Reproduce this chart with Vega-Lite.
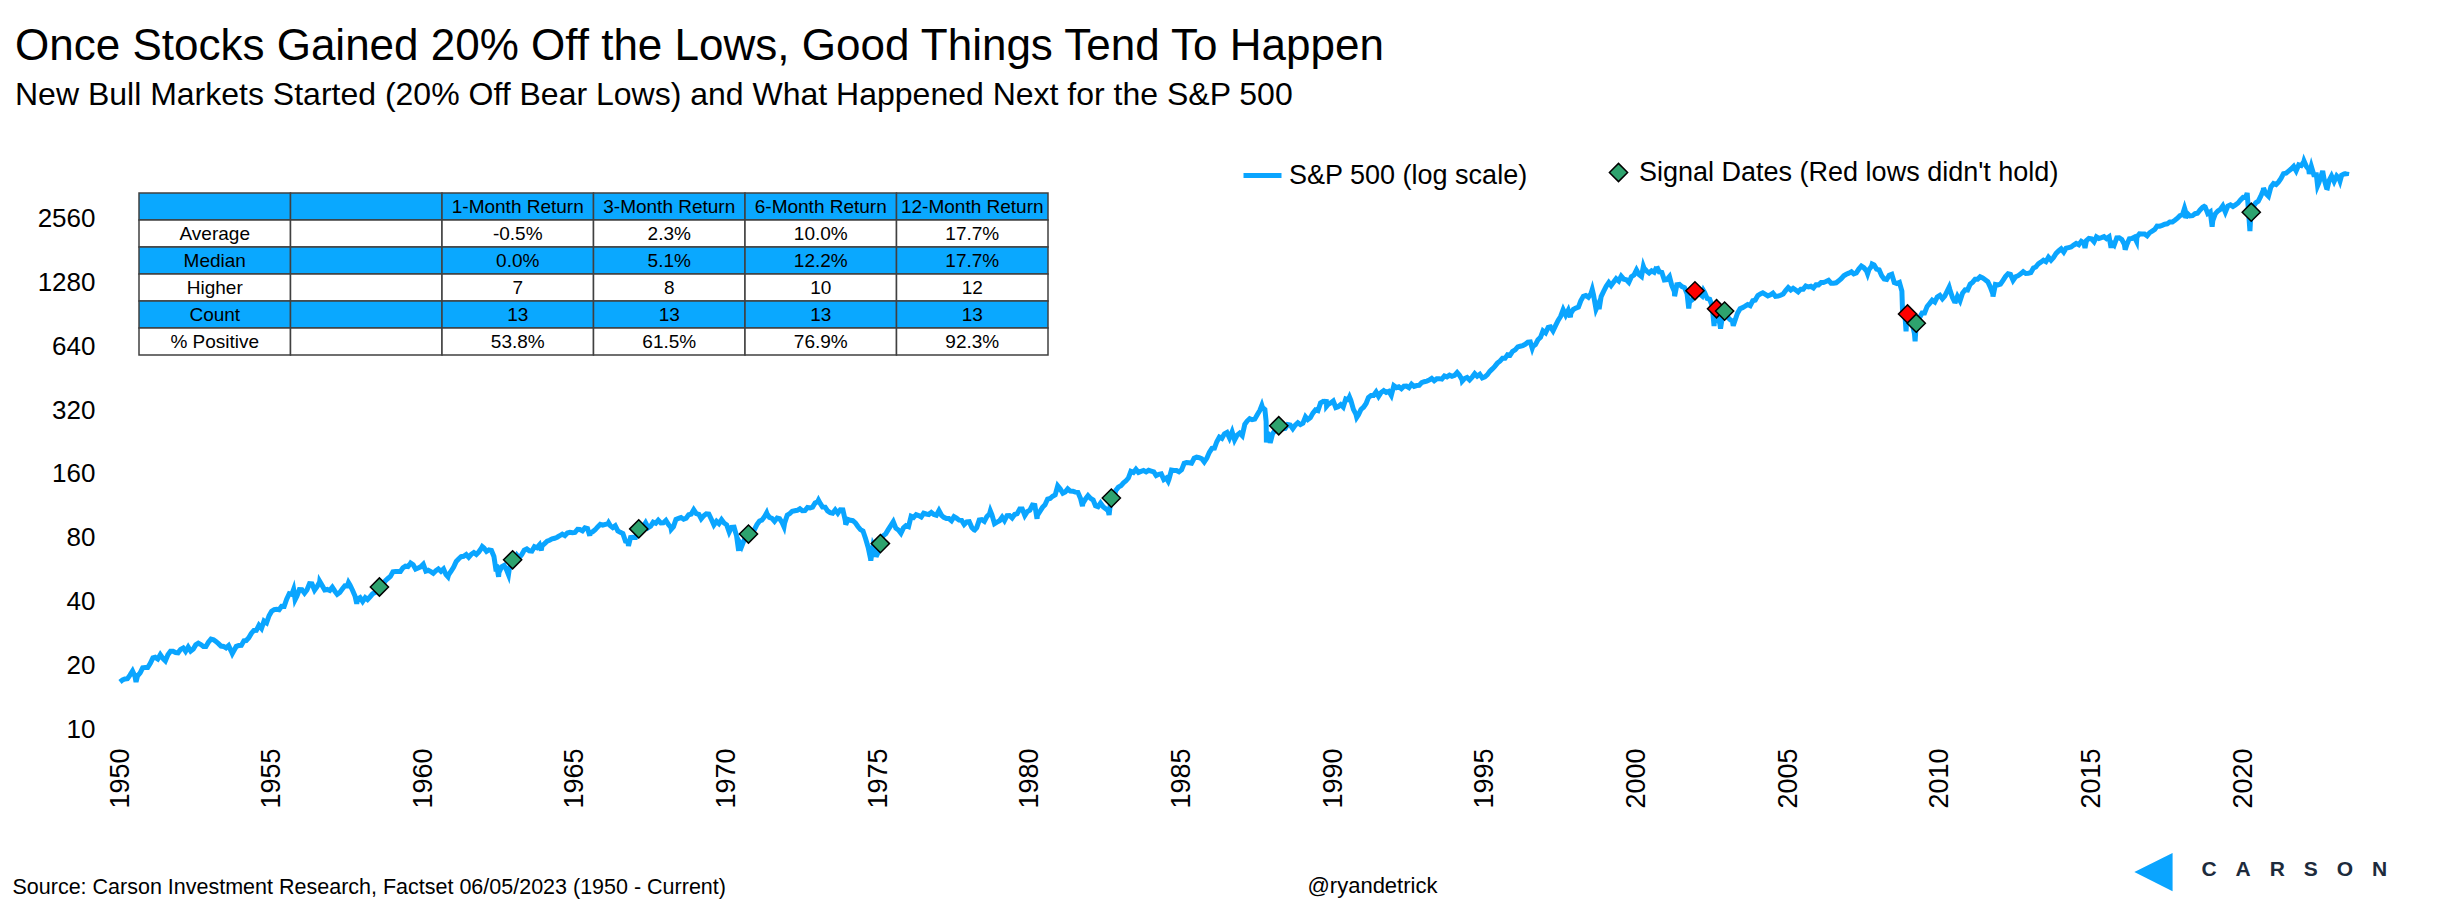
{
  "$schema": "https://vega.github.io/schema/vega-lite/v6.json",
  "width": 2227,
  "height": 574,
  "autosize": {"type": "none"},
  "padding": {"left": 120, "top": 155, "right": 92, "bottom": 180},
  "background": "white",
  "title": {
    "text": "Once Stocks Gained 20% Off the Lows, Good Things Tend To Happen",
    "subtitle": "New Bull Markets Started (20% Off Bear Lows) and What Happened Next for the S&P 500",
    "anchor": "start",
    "frame": "group",
    "dx": -105,
    "offset": 40,
    "font": "Liberation Sans",
    "fontSize": 44,
    "fontWeight": "normal",
    "color": "black",
    "subtitleFont": "Liberation Sans",
    "subtitleFontSize": 32,
    "subtitleColor": "black",
    "subtitlePadding": 11
  },
  "datasets": {
    "spx": [
      {"d":"1950-01","v":16.66},{"d":"1950-02","v":17.05},{"d":"1950-03","v":17.22},{"d":"1950-04","v":17.29},{"d":"1950-05","v":17.96},{"d":"1950-06","v":18.78},{"d":"1950-07","v":17.69},{"d":"1950-07-13","v":16.68},{"d":"1950-08","v":17.84},{"d":"1950-09","v":18.42},{"d":"1950-10","v":19.45},{"d":"1950-11","v":19.53},{"d":"1950-12","v":19.51},
      {"d":"1951-01","v":20.41},{"d":"1951-02","v":21.66},{"d":"1951-03","v":21.80},{"d":"1951-04","v":21.40},{"d":"1951-05","v":22.43},{"d":"1951-06","v":21.52},{"d":"1951-07","v":20.96},{"d":"1951-08","v":22.40},{"d":"1951-09","v":23.28},{"d":"1951-10","v":23.26},{"d":"1951-11","v":22.94},{"d":"1951-12","v":22.88},
      {"d":"1952-01","v":23.77},{"d":"1952-02","v":24.14},{"d":"1952-03","v":23.26},{"d":"1952-04","v":24.37},{"d":"1952-05","v":23.32},{"d":"1952-06","v":23.86},{"d":"1952-07","v":24.96},{"d":"1952-08","v":25.40},{"d":"1952-09","v":25.03},{"d":"1952-10","v":24.54},{"d":"1952-11","v":24.52},{"d":"1952-12","v":25.66},
      {"d":"1953-01","v":26.57},{"d":"1953-02","v":26.38},{"d":"1953-03","v":25.90},{"d":"1953-04","v":25.29},{"d":"1953-05","v":24.62},{"d":"1953-06","v":24.54},{"d":"1953-07","v":24.14},{"d":"1953-08","v":24.75},{"d":"1953-09","v":23.32},{"d":"1953-09-14","v":22.71},{"d":"1953-10","v":23.35},{"d":"1953-11","v":24.54},{"d":"1953-12","v":24.76},
      {"d":"1954-01","v":24.81},{"d":"1954-02","v":26.08},{"d":"1954-03","v":26.15},{"d":"1954-04","v":26.94},{"d":"1954-05","v":28.26},{"d":"1954-06","v":29.19},{"d":"1954-07","v":29.21},{"d":"1954-08","v":30.88},{"d":"1954-09","v":29.83},{"d":"1954-10","v":32.31},{"d":"1954-11","v":31.68},{"d":"1954-12","v":34.24},
      {"d":"1955-01","v":35.98},{"d":"1955-02","v":36.63},{"d":"1955-03","v":36.76},{"d":"1955-04","v":36.58},{"d":"1955-05","v":37.96},{"d":"1955-06","v":37.91},{"d":"1955-07","v":41.03},{"d":"1955-08","v":43.52},{"d":"1955-09","v":43.18},{"d":"1955-09-23","v":45.63},{"d":"1955-10","v":43.67},{"d":"1955-10-11","v":40.80},{"d":"1955-11","v":42.34},{"d":"1955-12","v":45.51},
      {"d":"1956-01","v":45.48},{"d":"1956-02","v":43.82},{"d":"1956-03","v":45.34},{"d":"1956-04","v":48.48},{"d":"1956-05","v":48.38},{"d":"1956-06","v":45.20},{"d":"1956-07","v":46.97},{"d":"1956-08","v":49.39},{"d":"1956-08-02","v":49.74},{"d":"1956-09","v":47.51},{"d":"1956-10","v":45.35},{"d":"1956-11","v":45.58},{"d":"1956-12","v":45.08},
      {"d":"1957-01","v":46.67},{"d":"1957-02","v":44.72},{"d":"1957-03","v":43.26},{"d":"1957-04","v":44.11},{"d":"1957-05","v":45.74},{"d":"1957-06","v":47.43},{"d":"1957-07","v":47.37},{"d":"1957-07-15","v":49.13},{"d":"1957-08","v":47.91},{"d":"1957-09","v":45.22},{"d":"1957-10","v":42.42},{"d":"1957-10-22","v":38.98},{"d":"1957-11","v":41.06},{"d":"1957-12","v":41.72},
      {"d":"1958-01","v":39.99},{"d":"1958-02","v":41.70},{"d":"1958-03","v":40.84},{"d":"1958-04","v":42.10},{"d":"1958-05","v":43.44},{"d":"1958-06","v":44.09},{"d":"1958-07","v":45.24},{"d":"1958-07-22","v":46.80},{"d":"1958-08","v":47.19},{"d":"1958-09","v":47.75},{"d":"1958-10","v":50.06},{"d":"1958-11","v":51.33},{"d":"1958-12","v":52.48},
      {"d":"1959-01","v":55.21},{"d":"1959-02","v":55.42},{"d":"1959-03","v":55.41},{"d":"1959-04","v":55.44},{"d":"1959-05","v":57.59},{"d":"1959-06","v":58.68},{"d":"1959-07","v":58.47},{"d":"1959-08","v":60.51},{"d":"1959-08-03","v":60.71},{"d":"1959-09","v":59.60},{"d":"1959-10","v":56.88},{"d":"1959-11","v":57.52},{"d":"1959-12","v":58.28},
      {"d":"1960-01","v":59.89},{"d":"1960-02","v":55.61},{"d":"1960-03","v":56.12},{"d":"1960-04","v":55.34},{"d":"1960-05","v":54.37},{"d":"1960-06","v":55.83},{"d":"1960-07","v":56.92},{"d":"1960-08","v":55.51},{"d":"1960-09","v":56.96},{"d":"1960-10","v":53.52},{"d":"1960-10-25","v":52.30},{"d":"1960-11","v":53.39},{"d":"1960-12","v":55.54},
      {"d":"1961-01","v":58.11},{"d":"1961-02","v":61.78},{"d":"1961-03","v":63.44},{"d":"1961-04","v":65.06},{"d":"1961-05","v":65.31},{"d":"1961-06","v":66.56},{"d":"1961-07","v":64.64},{"d":"1961-08","v":66.76},{"d":"1961-09","v":68.07},{"d":"1961-10","v":66.73},{"d":"1961-11","v":68.62},{"d":"1961-12","v":71.32},{"d":"1961-12-12","v":72.64},
      {"d":"1962-01","v":71.55},{"d":"1962-02","v":68.84},{"d":"1962-03","v":69.96},{"d":"1962-04","v":69.55},{"d":"1962-05","v":65.24},{"d":"1962-05-28","v":55.50},{"d":"1962-06","v":59.63},{"d":"1962-06-26","v":52.32},{"d":"1962-07","v":54.75},{"d":"1962-08","v":58.23},{"d":"1962-09","v":59.12},{"d":"1962-10","v":56.27},{"d":"1962-10-23","v":53.49},{"d":"1962-11","v":56.52},{"d":"1962-12","v":62.26},{"d":"1962-12-12","v":62.90},
      {"d":"1963-01","v":63.10},{"d":"1963-02","v":66.20},{"d":"1963-03","v":64.29},{"d":"1963-04","v":66.57},{"d":"1963-05","v":69.80},{"d":"1963-06","v":70.80},{"d":"1963-07","v":69.37},{"d":"1963-08","v":69.13},{"d":"1963-09","v":72.50},{"d":"1963-10","v":71.70},{"d":"1963-11","v":74.01},{"d":"1963-11-22","v":69.61},{"d":"1963-12","v":73.23},
      {"d":"1964-01","v":75.02},{"d":"1964-02","v":77.04},{"d":"1964-03","v":77.80},{"d":"1964-04","v":78.98},{"d":"1964-05","v":79.46},{"d":"1964-06","v":80.37},{"d":"1964-07","v":81.69},{"d":"1964-08","v":83.18},{"d":"1964-09","v":81.83},{"d":"1964-10","v":84.18},{"d":"1964-11","v":84.86},{"d":"1964-12","v":84.42},
      {"d":"1965-01","v":84.75},{"d":"1965-02","v":87.56},{"d":"1965-03","v":87.43},{"d":"1965-04","v":86.16},{"d":"1965-05","v":89.11},{"d":"1965-06","v":88.42},{"d":"1965-06-28","v":81.60},{"d":"1965-07","v":84.12},{"d":"1965-08","v":85.25},{"d":"1965-09","v":87.17},{"d":"1965-10","v":89.96},{"d":"1965-11","v":92.42},{"d":"1965-12","v":91.61},
      {"d":"1966-01","v":92.43},{"d":"1966-02","v":92.88},{"d":"1966-02-09","v":94.06},{"d":"1966-03","v":91.22},{"d":"1966-04","v":89.23},{"d":"1966-05","v":91.06},{"d":"1966-06","v":86.13},{"d":"1966-07","v":84.74},{"d":"1966-08","v":83.60},{"d":"1966-09","v":77.10},{"d":"1966-10","v":76.56},{"d":"1966-10-07","v":73.20},{"d":"1966-11","v":80.20},{"d":"1966-12","v":80.45},
      {"d":"1967-01","v":80.33},{"d":"1967-02","v":86.61},{"d":"1967-02-08","v":88.00},{"d":"1967-03","v":86.78},{"d":"1967-04","v":90.20},{"d":"1967-05","v":94.01},{"d":"1967-06","v":89.08},{"d":"1967-07","v":90.64},{"d":"1967-08","v":94.75},{"d":"1967-09","v":93.64},{"d":"1967-10","v":96.71},{"d":"1967-11","v":93.90},{"d":"1967-12","v":94.00},
      {"d":"1968-01","v":96.47},{"d":"1968-02","v":92.24},{"d":"1968-03","v":89.36},{"d":"1968-03-05","v":87.72},{"d":"1968-04","v":90.20},{"d":"1968-05","v":97.59},{"d":"1968-06","v":98.68},{"d":"1968-07","v":99.58},{"d":"1968-08","v":97.74},{"d":"1968-09","v":98.86},{"d":"1968-10","v":102.67},{"d":"1968-11","v":103.41},{"d":"1968-12","v":108.37},
      {"d":"1969-01","v":103.86},{"d":"1969-02","v":103.01},{"d":"1969-03","v":98.13},{"d":"1969-04","v":101.51},{"d":"1969-05","v":103.69},{"d":"1969-06","v":103.46},{"d":"1969-07","v":97.71},{"d":"1969-08","v":91.83},{"d":"1969-09","v":95.51},{"d":"1969-10","v":93.12},{"d":"1969-11","v":97.24},{"d":"1969-12","v":93.81},
      {"d":"1970-01","v":92.06},{"d":"1970-02","v":85.02},{"d":"1970-03","v":89.50},{"d":"1970-04","v":89.63},{"d":"1970-05","v":81.52},{"d":"1970-05-26","v":69.29},{"d":"1970-06","v":76.55},{"d":"1970-07","v":72.72},{"d":"1970-08","v":78.05},{"d":"1970-09","v":81.52},{"d":"1970-09-21","v":83.20},{"d":"1970-10","v":84.21},{"d":"1970-11","v":83.25},{"d":"1970-12","v":87.20},
      {"d":"1971-01","v":92.15},{"d":"1971-02","v":95.88},{"d":"1971-03","v":96.75},{"d":"1971-04","v":100.31},{"d":"1971-04-28","v":104.77},{"d":"1971-05","v":103.95},{"d":"1971-06","v":99.63},{"d":"1971-07","v":98.70},{"d":"1971-08","v":95.58},{"d":"1971-09","v":99.03},{"d":"1971-10","v":98.34},{"d":"1971-11","v":94.23},{"d":"1971-11-23","v":90.16},{"d":"1971-12","v":93.99},
      {"d":"1972-01","v":102.09},{"d":"1972-02","v":103.94},{"d":"1972-03","v":106.57},{"d":"1972-04","v":107.20},{"d":"1972-05","v":107.67},{"d":"1972-06","v":109.53},{"d":"1972-07","v":107.14},{"d":"1972-08","v":107.39},{"d":"1972-09","v":111.09},{"d":"1972-10","v":110.55},{"d":"1972-11","v":111.58},{"d":"1972-12","v":116.67},
      {"d":"1973-01","v":118.05},{"d":"1973-01-11","v":120.24},{"d":"1973-02","v":116.03},{"d":"1973-03","v":111.68},{"d":"1973-04","v":111.52},{"d":"1973-05","v":106.97},{"d":"1973-06","v":104.95},{"d":"1973-07","v":104.26},{"d":"1973-08","v":108.22},{"d":"1973-09","v":104.25},{"d":"1973-10","v":108.43},{"d":"1973-11","v":108.29},{"d":"1973-12","v":95.96},{"d":"1973-12-05","v":92.16},
      {"d":"1974-01","v":97.55},{"d":"1974-02","v":96.57},{"d":"1974-03","v":96.22},{"d":"1974-04","v":93.98},{"d":"1974-05","v":90.31},{"d":"1974-06","v":87.28},{"d":"1974-07","v":86.00},{"d":"1974-08","v":79.31},{"d":"1974-09","v":72.15},{"d":"1974-10","v":63.54},{"d":"1974-10-03","v":62.28},{"d":"1974-11","v":73.90},{"d":"1974-12","v":69.97},{"d":"1974-12-06","v":65.01},
      {"d":"1975-01","v":68.56},{"d":"1975-01-27","v":75.00},{"d":"1975-02","v":76.98},{"d":"1975-03","v":81.59},{"d":"1975-04","v":83.36},{"d":"1975-05","v":87.30},{"d":"1975-06","v":91.15},{"d":"1975-07","v":95.19},{"d":"1975-08","v":88.75},{"d":"1975-09","v":86.88},{"d":"1975-10","v":83.87},{"d":"1975-11","v":89.04},{"d":"1975-12","v":91.24},
      {"d":"1976-01","v":90.19},{"d":"1976-02","v":100.86},{"d":"1976-03","v":99.71},{"d":"1976-04","v":102.77},{"d":"1976-05","v":101.64},{"d":"1976-06","v":100.18},{"d":"1976-07","v":104.28},{"d":"1976-08","v":103.44},{"d":"1976-09","v":102.91},{"d":"1976-10","v":105.24},{"d":"1976-11","v":102.90},{"d":"1976-12","v":102.10},
      {"d":"1977-01","v":107.46},{"d":"1977-02","v":102.03},{"d":"1977-03","v":99.82},{"d":"1977-04","v":98.42},{"d":"1977-05","v":98.44},{"d":"1977-06","v":96.12},{"d":"1977-07","v":100.48},{"d":"1977-08","v":98.85},{"d":"1977-09","v":96.77},{"d":"1977-10","v":96.53},{"d":"1977-11","v":92.34},{"d":"1977-12","v":94.83},
      {"d":"1978-01","v":95.10},{"d":"1978-02","v":89.25},{"d":"1978-03","v":87.04},{"d":"1978-03-06","v":86.90},{"d":"1978-04","v":89.21},{"d":"1978-05","v":96.83},{"d":"1978-06","v":97.24},{"d":"1978-07","v":95.53},{"d":"1978-08","v":100.68},{"d":"1978-09","v":103.29},{"d":"1978-09-12","v":106.99},{"d":"1978-10","v":102.54},{"d":"1978-11","v":93.15},{"d":"1978-12","v":94.70},
      {"d":"1979-01","v":96.11},{"d":"1979-02","v":99.93},{"d":"1979-03","v":96.28},{"d":"1979-04","v":101.59},{"d":"1979-05","v":101.76},{"d":"1979-06","v":99.08},{"d":"1979-07","v":102.91},{"d":"1979-08","v":103.81},{"d":"1979-09","v":109.32},{"d":"1979-10","v":109.32},{"d":"1979-11","v":101.82},{"d":"1979-12","v":106.16},
      {"d":"1980-01","v":107.94},{"d":"1980-02","v":114.16},{"d":"1980-03","v":113.66},{"d":"1980-03-27","v":98.22},{"d":"1980-04","v":102.09},{"d":"1980-05","v":106.29},{"d":"1980-06","v":111.24},{"d":"1980-07","v":114.24},{"d":"1980-08","v":121.67},{"d":"1980-09","v":122.38},{"d":"1980-10","v":125.46},{"d":"1980-11","v":127.47},{"d":"1980-12","v":140.52},
      {"d":"1981-01","v":135.76},{"d":"1981-02","v":129.55},{"d":"1981-03","v":131.27},{"d":"1981-04","v":136.00},{"d":"1981-05","v":132.81},{"d":"1981-06","v":132.59},{"d":"1981-07","v":131.21},{"d":"1981-08","v":130.92},{"d":"1981-09","v":122.79},{"d":"1981-09-25","v":112.77},{"d":"1981-10","v":116.18},{"d":"1981-11","v":121.89},{"d":"1981-12","v":126.35},
      {"d":"1982-01","v":122.55},{"d":"1982-02","v":120.40},{"d":"1982-03","v":113.11},{"d":"1982-04","v":111.96},{"d":"1982-05","v":116.44},{"d":"1982-06","v":111.88},{"d":"1982-07","v":109.61},{"d":"1982-08","v":107.09},{"d":"1982-08-12","v":102.42},{"d":"1982-09","v":119.51},{"d":"1982-09-08","v":123.00},{"d":"1982-10","v":120.42},{"d":"1982-11","v":133.71},{"d":"1982-12","v":138.54},
      {"d":"1983-01","v":140.64},{"d":"1983-02","v":145.30},{"d":"1983-03","v":148.06},{"d":"1983-04","v":152.96},{"d":"1983-05","v":164.42},{"d":"1983-06","v":162.39},{"d":"1983-07","v":168.11},{"d":"1983-08","v":162.56},{"d":"1983-09","v":164.40},{"d":"1983-10","v":166.07},{"d":"1983-11","v":163.55},{"d":"1983-12","v":166.40},
      {"d":"1984-01","v":164.93},{"d":"1984-02","v":163.41},{"d":"1984-03","v":157.06},{"d":"1984-04","v":159.18},{"d":"1984-05","v":160.05},{"d":"1984-06","v":150.55},{"d":"1984-07","v":153.18},{"d":"1984-07-24","v":147.82},{"d":"1984-08","v":150.66},{"d":"1984-09","v":166.68},{"d":"1984-10","v":166.10},{"d":"1984-11","v":166.09},{"d":"1984-12","v":163.58},
      {"d":"1985-01","v":167.24},{"d":"1985-02","v":179.63},{"d":"1985-03","v":181.18},{"d":"1985-04","v":180.66},{"d":"1985-05","v":179.83},{"d":"1985-06","v":189.55},{"d":"1985-07","v":191.85},{"d":"1985-08","v":190.92},{"d":"1985-09","v":188.63},{"d":"1985-10","v":182.08},{"d":"1985-11","v":189.82},{"d":"1985-12","v":202.17},
      {"d":"1986-01","v":211.28},{"d":"1986-02","v":211.78},{"d":"1986-03","v":226.92},{"d":"1986-04","v":238.90},{"d":"1986-05","v":235.52},{"d":"1986-06","v":247.35},{"d":"1986-07","v":250.84},{"d":"1986-08","v":236.12},{"d":"1986-09","v":252.93},{"d":"1986-10","v":231.32},{"d":"1986-11","v":243.98},{"d":"1986-12","v":249.22},
      {"d":"1987-01","v":242.17},{"d":"1987-02","v":274.08},{"d":"1987-03","v":284.20},{"d":"1987-04","v":291.70},{"d":"1987-05","v":288.36},{"d":"1987-06","v":290.10},{"d":"1987-07","v":304.00},{"d":"1987-08","v":318.66},{"d":"1987-08-25","v":336.77},{"d":"1987-09","v":329.80},{"d":"1987-10","v":321.83},{"d":"1987-10-16","v":282.70},{"d":"1987-10-19","v":224.84},{"d":"1987-11","v":251.79},{"d":"1987-12","v":230.30},{"d":"1987-12-04","v":223.92},
      {"d":"1988-01","v":247.08},{"d":"1988-02","v":257.07},{"d":"1988-03","v":267.82},{"d":"1988-03-16","v":270.00},{"d":"1988-04","v":258.89},{"d":"1988-05","v":261.33},{"d":"1988-06","v":262.16},{"d":"1988-07","v":273.50},{"d":"1988-08","v":272.02},{"d":"1988-09","v":261.52},{"d":"1988-10","v":271.91},{"d":"1988-11","v":278.97},{"d":"1988-12","v":273.70},
      {"d":"1989-01","v":277.72},{"d":"1989-02","v":297.47},{"d":"1989-03","v":288.86},{"d":"1989-04","v":294.87},{"d":"1989-05","v":309.64},{"d":"1989-06","v":320.52},{"d":"1989-07","v":317.98},{"d":"1989-08","v":346.08},{"d":"1989-09","v":351.45},{"d":"1989-10","v":349.15},{"d":"1989-10-09","v":359.80},{"d":"1989-10-13","v":333.65},{"d":"1989-11","v":340.36},{"d":"1989-12","v":345.99},
      {"d":"1990-01","v":353.40},{"d":"1990-02","v":329.08},{"d":"1990-03","v":331.89},{"d":"1990-04","v":339.94},{"d":"1990-05","v":330.80},{"d":"1990-06","v":361.23},{"d":"1990-07","v":358.02},{"d":"1990-07-16","v":368.95},{"d":"1990-08","v":356.15},{"d":"1990-09","v":322.56},{"d":"1990-10","v":306.05},{"d":"1990-10-11","v":295.46},{"d":"1990-11","v":304.00},{"d":"1990-12","v":322.22},
      {"d":"1991-01","v":330.22},{"d":"1991-02","v":343.93},{"d":"1991-03","v":367.07},{"d":"1991-04","v":375.22},{"d":"1991-05","v":375.34},{"d":"1991-06","v":389.83},{"d":"1991-07","v":371.16},{"d":"1991-08","v":387.81},{"d":"1991-09","v":395.43},{"d":"1991-10","v":387.86},{"d":"1991-11","v":392.45},{"d":"1991-12","v":375.22},
      {"d":"1992-01","v":417.09},{"d":"1992-02","v":408.79},{"d":"1992-03","v":412.70},{"d":"1992-04","v":403.69},{"d":"1992-05","v":414.95},{"d":"1992-06","v":415.35},{"d":"1992-07","v":408.14},{"d":"1992-08","v":424.21},{"d":"1992-09","v":414.03},{"d":"1992-10","v":417.80},{"d":"1992-11","v":418.68},{"d":"1992-12","v":431.35},
      {"d":"1993-01","v":435.71},{"d":"1993-02","v":438.78},{"d":"1993-03","v":443.38},{"d":"1993-04","v":451.67},{"d":"1993-05","v":440.19},{"d":"1993-06","v":450.19},{"d":"1993-07","v":450.53},{"d":"1993-08","v":448.13},{"d":"1993-09","v":463.56},{"d":"1993-10","v":458.93},{"d":"1993-11","v":467.83},{"d":"1993-12","v":461.79},
      {"d":"1994-01","v":466.45},{"d":"1994-02","v":481.61},{"d":"1994-03","v":467.14},{"d":"1994-04","v":445.77},{"d":"1994-04-04","v":438.92},{"d":"1994-05","v":450.91},{"d":"1994-06","v":456.50},{"d":"1994-07","v":444.27},{"d":"1994-08","v":458.26},{"d":"1994-09","v":475.49},{"d":"1994-10","v":462.69},{"d":"1994-11","v":472.35},{"d":"1994-12","v":453.69},
      {"d":"1995-01","v":459.27},{"d":"1995-02","v":470.42},{"d":"1995-03","v":487.39},{"d":"1995-04","v":500.71},{"d":"1995-05","v":514.71},{"d":"1995-06","v":533.40},{"d":"1995-07","v":544.75},{"d":"1995-08","v":562.06},{"d":"1995-09","v":561.88},{"d":"1995-10","v":584.41},{"d":"1995-11","v":581.50},{"d":"1995-12","v":605.37},
      {"d":"1996-01","v":615.93},{"d":"1996-02","v":636.02},{"d":"1996-03","v":640.43},{"d":"1996-04","v":645.50},{"d":"1996-05","v":654.17},{"d":"1996-06","v":669.12},{"d":"1996-07","v":670.63},{"d":"1996-07-24","v":626.65},{"d":"1996-08","v":639.95},{"d":"1996-09","v":651.99},{"d":"1996-10","v":687.31},{"d":"1996-11","v":705.27},{"d":"1996-12","v":757.02},
      {"d":"1997-01","v":740.74},{"d":"1997-02","v":786.16},{"d":"1997-03","v":790.82},{"d":"1997-04","v":757.12},{"d":"1997-05","v":801.34},{"d":"1997-06","v":848.28},{"d":"1997-07","v":885.14},{"d":"1997-08","v":954.29},{"d":"1997-09","v":899.47},{"d":"1997-10","v":947.28},{"d":"1997-10-27","v":876.99},{"d":"1997-11","v":914.62},{"d":"1997-12","v":955.40},
      {"d":"1998-01","v":970.43},{"d":"1998-02","v":980.28},{"d":"1998-03","v":1049.34},{"d":"1998-04","v":1101.75},{"d":"1998-05","v":1111.75},{"d":"1998-06","v":1090.82},{"d":"1998-07","v":1133.84},{"d":"1998-07-17","v":1186.75},{"d":"1998-08","v":1120.67},{"d":"1998-09","v":957.28},{"d":"1998-10","v":1017.01},{"d":"1998-10-08","v":959.44},{"d":"1998-11","v":1098.67},{"d":"1998-12","v":1163.63},
      {"d":"1999-01","v":1229.23},{"d":"1999-02","v":1279.64},{"d":"1999-03","v":1238.33},{"d":"1999-04","v":1286.37},{"d":"1999-05","v":1335.18},{"d":"1999-06","v":1301.84},{"d":"1999-07","v":1372.71},{"d":"1999-08","v":1328.72},{"d":"1999-09","v":1320.41},{"d":"1999-10","v":1282.71},{"d":"1999-11","v":1362.93},{"d":"1999-12","v":1388.91},
      {"d":"2000-01","v":1469.25},{"d":"2000-02","v":1394.46},{"d":"2000-03","v":1366.42},{"d":"2000-03-24","v":1527.46},{"d":"2000-04","v":1498.58},{"d":"2000-05","v":1452.43},{"d":"2000-06","v":1420.60},{"d":"2000-07","v":1454.60},{"d":"2000-08","v":1430.83},{"d":"2000-09","v":1517.68},{"d":"2000-09-01","v":1520.77},{"d":"2000-10","v":1436.51},{"d":"2000-11","v":1429.40},{"d":"2000-12","v":1314.95},
      {"d":"2001-01","v":1320.28},{"d":"2001-02","v":1366.01},{"d":"2001-03","v":1239.94},{"d":"2001-04","v":1160.33},{"d":"2001-04-04","v":1103.25},{"d":"2001-05","v":1249.46},{"d":"2001-06","v":1255.82},{"d":"2001-07","v":1224.42},{"d":"2001-08","v":1211.23},{"d":"2001-09","v":1133.58},{"d":"2001-09-21","v":965.80},{"d":"2001-10","v":1040.94},{"d":"2001-11","v":1059.78},{"d":"2001-12","v":1139.45},{"d":"2001-12-05","v":1170.35},
      {"d":"2002-01","v":1148.08},{"d":"2002-01-04","v":1172.51},{"d":"2002-02","v":1130.20},{"d":"2002-03","v":1106.73},{"d":"2002-03-19","v":1170.29},{"d":"2002-04","v":1147.39},{"d":"2002-05","v":1076.92},{"d":"2002-06","v":1067.14},{"d":"2002-07","v":989.82},{"d":"2002-07-23","v":797.70},{"d":"2002-08","v":911.62},{"d":"2002-08-22","v":962.70},{"d":"2002-09","v":916.07},{"d":"2002-10","v":815.28},{"d":"2002-10-09","v":776.76},{"d":"2002-11","v":885.76},{"d":"2002-11-27","v":938.87},{"d":"2002-12","v":936.31},
      {"d":"2003-01","v":879.82},{"d":"2003-02","v":855.70},{"d":"2003-03","v":841.15},{"d":"2003-03-11","v":800.73},{"d":"2003-04","v":848.18},{"d":"2003-05","v":916.92},{"d":"2003-06","v":963.59},{"d":"2003-07","v":974.50},{"d":"2003-08","v":990.31},{"d":"2003-09","v":1008.01},{"d":"2003-10","v":995.97},{"d":"2003-11","v":1050.71},{"d":"2003-12","v":1058.20},
      {"d":"2004-01","v":1111.92},{"d":"2004-02","v":1131.13},{"d":"2004-03","v":1144.94},{"d":"2004-04","v":1126.21},{"d":"2004-05","v":1107.30},{"d":"2004-06","v":1120.68},{"d":"2004-07","v":1140.84},{"d":"2004-08","v":1101.72},{"d":"2004-09","v":1104.24},{"d":"2004-10","v":1114.58},{"d":"2004-11","v":1130.20},{"d":"2004-12","v":1173.82},
      {"d":"2005-01","v":1211.92},{"d":"2005-02","v":1181.27},{"d":"2005-03","v":1203.60},{"d":"2005-04","v":1180.59},{"d":"2005-05","v":1156.85},{"d":"2005-06","v":1191.50},{"d":"2005-07","v":1191.33},{"d":"2005-08","v":1234.18},{"d":"2005-09","v":1220.33},{"d":"2005-10","v":1228.81},{"d":"2005-11","v":1207.01},{"d":"2005-12","v":1249.48},
      {"d":"2006-01","v":1248.29},{"d":"2006-02","v":1280.08},{"d":"2006-03","v":1280.66},{"d":"2006-04","v":1294.83},{"d":"2006-05","v":1310.61},{"d":"2006-06","v":1270.09},{"d":"2006-07","v":1270.20},{"d":"2006-08","v":1276.66},{"d":"2006-09","v":1303.82},{"d":"2006-10","v":1335.85},{"d":"2006-11","v":1377.94},{"d":"2006-12","v":1400.63},
      {"d":"2007-01","v":1418.30},{"d":"2007-02","v":1438.24},{"d":"2007-03","v":1406.82},{"d":"2007-04","v":1420.86},{"d":"2007-05","v":1482.37},{"d":"2007-06","v":1530.62},{"d":"2007-07","v":1503.35},{"d":"2007-08","v":1455.27},{"d":"2007-08-15","v":1406.70},{"d":"2007-09","v":1473.99},{"d":"2007-10","v":1526.75},{"d":"2007-10-09","v":1565.15},{"d":"2007-11","v":1549.38},{"d":"2007-12","v":1481.14},
      {"d":"2008-01","v":1468.36},{"d":"2008-02","v":1378.55},{"d":"2008-03","v":1330.63},{"d":"2008-04","v":1322.70},{"d":"2008-05","v":1385.59},{"d":"2008-06","v":1400.38},{"d":"2008-07","v":1280.00},{"d":"2008-08","v":1267.38},{"d":"2008-09","v":1282.83},{"d":"2008-10","v":1166.36},{"d":"2008-10-10","v":899.22},{"d":"2008-11","v":968.75},{"d":"2008-11-20","v":752.44},{"d":"2008-12","v":896.24},{"d":"2008-12-08","v":909.70},
      {"d":"2009-01","v":903.25},{"d":"2009-02","v":825.88},{"d":"2009-03","v":735.09},{"d":"2009-03-09","v":676.53},{"d":"2009-03-23","v":822.92},{"d":"2009-04","v":797.87},{"d":"2009-05","v":872.81},{"d":"2009-06","v":919.14},{"d":"2009-07","v":919.32},{"d":"2009-08","v":987.48},{"d":"2009-09","v":1020.62},{"d":"2009-10","v":1057.08},{"d":"2009-11","v":1036.19},{"d":"2009-12","v":1095.63},
      {"d":"2010-01","v":1115.10},{"d":"2010-02","v":1073.87},{"d":"2010-03","v":1104.49},{"d":"2010-04","v":1169.43},{"d":"2010-04-23","v":1217.28},{"d":"2010-05","v":1186.69},{"d":"2010-06","v":1089.41},{"d":"2010-07","v":1030.71},{"d":"2010-07-02","v":1022.58},{"d":"2010-08","v":1101.60},{"d":"2010-09","v":1049.33},{"d":"2010-10","v":1141.20},{"d":"2010-11","v":1183.26},{"d":"2010-12","v":1180.55},
      {"d":"2011-01","v":1257.64},{"d":"2011-02","v":1286.12},{"d":"2011-03","v":1327.22},{"d":"2011-04","v":1325.83},{"d":"2011-05","v":1363.61},{"d":"2011-06","v":1345.20},{"d":"2011-07","v":1320.64},{"d":"2011-08","v":1292.28},{"d":"2011-09","v":1218.89},{"d":"2011-10","v":1131.42},{"d":"2011-10-03","v":1099.23},{"d":"2011-11","v":1253.30},{"d":"2011-12","v":1246.96},
      {"d":"2012-01","v":1257.60},{"d":"2012-02","v":1312.41},{"d":"2012-03","v":1365.68},{"d":"2012-04","v":1408.47},{"d":"2012-05","v":1397.91},{"d":"2012-06","v":1310.33},{"d":"2012-07","v":1362.16},{"d":"2012-08","v":1379.32},{"d":"2012-09","v":1406.58},{"d":"2012-10","v":1440.67},{"d":"2012-11","v":1412.16},{"d":"2012-12","v":1416.18},
      {"d":"2013-01","v":1426.19},{"d":"2013-02","v":1498.11},{"d":"2013-03","v":1514.68},{"d":"2013-04","v":1569.19},{"d":"2013-05","v":1597.57},{"d":"2013-06","v":1630.74},{"d":"2013-07","v":1606.28},{"d":"2013-08","v":1685.73},{"d":"2013-09","v":1632.97},{"d":"2013-10","v":1681.55},{"d":"2013-11","v":1756.54},{"d":"2013-12","v":1805.81},
      {"d":"2014-01","v":1848.36},{"d":"2014-02","v":1782.59},{"d":"2014-03","v":1859.45},{"d":"2014-04","v":1872.34},{"d":"2014-05","v":1883.95},{"d":"2014-06","v":1923.57},{"d":"2014-07","v":1960.23},{"d":"2014-08","v":1930.67},{"d":"2014-09","v":2003.37},{"d":"2014-10","v":1972.29},{"d":"2014-10-15","v":1862.49},{"d":"2014-11","v":2018.05},{"d":"2014-12","v":2067.56},
      {"d":"2015-01","v":2058.90},{"d":"2015-02","v":1994.99},{"d":"2015-03","v":2104.50},{"d":"2015-04","v":2067.89},{"d":"2015-05","v":2085.51},{"d":"2015-06","v":2107.39},{"d":"2015-07","v":2063.11},{"d":"2015-08","v":2103.84},{"d":"2015-08-25","v":1867.61},{"d":"2015-09","v":1972.18},{"d":"2015-10","v":1920.03},{"d":"2015-11","v":2079.36},{"d":"2015-12","v":2080.41},
      {"d":"2016-01","v":2043.94},{"d":"2016-02","v":1940.24},{"d":"2016-02-11","v":1829.08},{"d":"2016-03","v":1932.23},{"d":"2016-04","v":2059.74},{"d":"2016-05","v":2065.30},{"d":"2016-06","v":2096.95},{"d":"2016-06-27","v":2000.54},{"d":"2016-07","v":2098.86},{"d":"2016-08","v":2173.60},{"d":"2016-09","v":2170.95},{"d":"2016-10","v":2168.27},{"d":"2016-11","v":2126.15},{"d":"2016-12","v":2198.81},
      {"d":"2017-01","v":2238.83},{"d":"2017-02","v":2278.87},{"d":"2017-03","v":2363.64},{"d":"2017-04","v":2362.72},{"d":"2017-05","v":2384.20},{"d":"2017-06","v":2411.80},{"d":"2017-07","v":2423.41},{"d":"2017-08","v":2470.30},{"d":"2017-09","v":2471.65},{"d":"2017-10","v":2519.36},{"d":"2017-11","v":2575.26},{"d":"2017-12","v":2647.58},
      {"d":"2018-01","v":2673.61},{"d":"2018-01-26","v":2872.87},{"d":"2018-02","v":2823.81},{"d":"2018-02-08","v":2581.00},{"d":"2018-03","v":2713.83},{"d":"2018-04","v":2640.87},{"d":"2018-05","v":2648.05},{"d":"2018-06","v":2705.27},{"d":"2018-07","v":2718.37},{"d":"2018-08","v":2816.29},{"d":"2018-09","v":2901.52},{"d":"2018-09-20","v":2930.75},{"d":"2018-10","v":2913.98},{"d":"2018-11","v":2711.74},{"d":"2018-12","v":2760.17},{"d":"2018-12-24","v":2351.10},
      {"d":"2019-01","v":2506.85},{"d":"2019-02","v":2704.10},{"d":"2019-03","v":2784.49},{"d":"2019-04","v":2834.40},{"d":"2019-05","v":2945.83},{"d":"2019-06","v":2752.06},{"d":"2019-07","v":2941.76},{"d":"2019-08","v":2980.38},{"d":"2019-09","v":2926.46},{"d":"2019-10","v":2976.74},{"d":"2019-11","v":3037.56},{"d":"2019-12","v":3140.98},
      {"d":"2020-01","v":3230.78},{"d":"2020-02","v":3225.52},{"d":"2020-02-19","v":3386.15},{"d":"2020-03","v":2954.22},{"d":"2020-03-23","v":2237.40},{"d":"2020-04","v":2584.59},{"d":"2020-04-08","v":2749.98},{"d":"2020-05","v":2912.43},{"d":"2020-06","v":3044.31},{"d":"2020-07","v":3100.29},{"d":"2020-08","v":3271.12},{"d":"2020-09","v":3500.31},{"d":"2020-09-02","v":3580.84},{"d":"2020-10","v":3363.00},{"d":"2020-11","v":3269.96},{"d":"2020-12","v":3621.63},
      {"d":"2021-01","v":3756.07},{"d":"2021-02","v":3714.24},{"d":"2021-03","v":3811.15},{"d":"2021-04","v":3972.89},{"d":"2021-05","v":4181.17},{"d":"2021-06","v":4204.11},{"d":"2021-07","v":4297.50},{"d":"2021-08","v":4395.26},{"d":"2021-09","v":4522.68},{"d":"2021-10","v":4307.54},{"d":"2021-11","v":4605.38},{"d":"2021-12","v":4567.00},
      {"d":"2022-01","v":4766.18},{"d":"2022-01-03","v":4796.56},{"d":"2022-02","v":4515.55},{"d":"2022-03","v":4373.94},{"d":"2022-03-08","v":4170.70},{"d":"2022-04","v":4530.41},{"d":"2022-05","v":4131.93},{"d":"2022-06","v":4132.15},{"d":"2022-06-16","v":3666.77},{"d":"2022-07","v":3785.38},{"d":"2022-08","v":4130.29},{"d":"2022-08-16","v":4305.20},{"d":"2022-09","v":3955.00},{"d":"2022-10","v":3585.62},{"d":"2022-10-12","v":3577.03},{"d":"2022-11","v":3871.98},{"d":"2022-12","v":4080.11},
      {"d":"2023-01","v":3839.50},{"d":"2023-02","v":4076.60},{"d":"2023-03","v":3970.15},{"d":"2023-03-13","v":3855.76},{"d":"2023-04","v":4109.31},{"d":"2023-05","v":4169.48},{"d":"2023-06","v":4179.83},{"d":"2023-06-05","v":4273.79}
    ],
    "signals": [
      {"d":"1958-07-22","v":46.80,"h":1},
      {"d":"1962-12-12","v":62.90,"h":1},
      {"d":"1967-02-08","v":88.00,"h":1},
      {"d":"1970-09-21","v":83.20,"h":1},
      {"d":"1975-01-27","v":75.00,"h":1},
      {"d":"1982-09-08","v":123.00,"h":1},
      {"d":"1988-03-16","v":270.00,"h":1},
      {"d":"2001-12-05","v":1170.35,"h":0},
      {"d":"2002-08-22","v":962.70,"h":0},
      {"d":"2002-11-27","v":938.87,"h":1},
      {"d":"2008-12-08","v":909.70,"h":0},
      {"d":"2009-03-23","v":822.92,"h":1},
      {"d":"2020-04-08","v":2749.98,"h":1}
    ],
    "table": [
      {"r":"hdr","c":"c0","t":""},{"r":"hdr","c":"c1","t":""},{"r":"hdr","c":"c2","t":"1-Month Return"},{"r":"hdr","c":"c3","t":"3-Month Return"},{"r":"hdr","c":"c4","t":"6-Month Return"},{"r":"hdr","c":"c5","t":"12-Month Return"},
      {"r":"Average","c":"c0","t":"Average"},{"r":"Average","c":"c1","t":""},{"r":"Average","c":"c2","t":"-0.5%"},{"r":"Average","c":"c3","t":"2.3%"},{"r":"Average","c":"c4","t":"10.0%"},{"r":"Average","c":"c5","t":"17.7%"},
      {"r":"Median","c":"c0","t":"Median"},{"r":"Median","c":"c1","t":""},{"r":"Median","c":"c2","t":"0.0%"},{"r":"Median","c":"c3","t":"5.1%"},{"r":"Median","c":"c4","t":"12.2%"},{"r":"Median","c":"c5","t":"17.7%"},
      {"r":"Higher","c":"c0","t":"Higher"},{"r":"Higher","c":"c1","t":""},{"r":"Higher","c":"c2","t":"7"},{"r":"Higher","c":"c3","t":"8"},{"r":"Higher","c":"c4","t":"10"},{"r":"Higher","c":"c5","t":"12"},
      {"r":"Count","c":"c0","t":"Count"},{"r":"Count","c":"c1","t":""},{"r":"Count","c":"c2","t":"13"},{"r":"Count","c":"c3","t":"13"},{"r":"Count","c":"c4","t":"13"},{"r":"Count","c":"c5","t":"13"},
      {"r":"% Positive","c":"c0","t":"% Positive"},{"r":"% Positive","c":"c1","t":""},{"r":"% Positive","c":"c2","t":"53.8%"},{"r":"% Positive","c":"c3","t":"61.5%"},{"r":"% Positive","c":"c4","t":"76.9%"},{"r":"% Positive","c":"c5","t":"92.3%"}
    ]
  },
  "layer": [
    {
      "encoding": {
        "x": {
          "field": "d",
          "type": "temporal",
          "scale": {"type": "utc", "domain": [{"year": 1950, "month": 1, "date": 1, "utc": true}, {"year": 2023, "month": 6, "date": 5, "utc": true}]},
          "axis": {
            "orient": "bottom",
            "values": [{"year":1950,"utc":true},{"year":1955,"utc":true},{"year":1960,"utc":true},{"year":1965,"utc":true},{"year":1970,"utc":true},{"year":1975,"utc":true},{"year":1980,"utc":true},{"year":1985,"utc":true},{"year":1990,"utc":true},{"year":1995,"utc":true},{"year":2000,"utc":true},{"year":2005,"utc":true},{"year":2010,"utc":true},{"year":2015,"utc":true},{"year":2020,"utc":true}],
            "format": "%Y",
            "labelAngle": 270,
            "labelAlign": "right",
            "labelBaseline": "middle",
            "labelFontSize": 27,
            "labelColor": "black",
            "labelPadding": 19,
            "labelFlush": false,
            "labelOverlap": false,
            "ticks": false,
            "tickSize": 0,
            "domain": false,
            "grid": false,
            "title": "Source: Carson Investment Research, Factset 06/05/2023 (1950 - Current)",
            "titleX": -108,
            "titleY": 158,
            "titleAlign": "left",
            "titleBaseline": "middle",
            "titleAngle": 0,
            "titleFontSize": 21.5,
            "titleFontWeight": "normal",
            "titleColor": "black"
          }
        },
        "y": {
          "field": "v",
          "type": "quantitative",
          "scale": {"type": "log", "base": 2, "domain": [10, 5120], "nice": false},
          "axis": {
            "orient": "left",
            "values": [10, 20, 40, 80, 160, 320, 640, 1280, 2560],
            "format": "d",
            "labelFontSize": 26,
            "labelColor": "black",
            "labelPadding": 25,
            "ticks": false,
            "tickSize": 0,
            "domain": false,
            "grid": false,
            "title": "◀",
            "titleFont": "DejaVu Sans",
            "titleX": 2033,
            "titleY": 714,
            "titleAngle": 0,
            "titleAlign": "center",
            "titleBaseline": "middle",
            "titleFontSize": 50,
            "titleFontWeight": "normal",
            "titleColor": "#0AA5FF"
          }
        }
      },
      "layer": [
        {
          "data": {"name": "spx"},
          "mark": {"type": "line", "strokeWidth": 5},
          "encoding": {
            "stroke": {
              "datum": "S&P 500 (log scale)",
              "scale": {"range": ["#0AA5FF"]},
              "legend": {
                "orient": "none",
                "legendX": 1121,
                "legendY": -1,
                "title": null,
                "padding": 0,
                "symbolType": "stroke",
                "symbolSize": 1444,
                "symbolStrokeWidth": 5,
                "labelOffset": 5,
                "labelLimit": 0,
                "labelFontSize": 27,
                "labelColor": "black"
              }
            }
          }
        },
        {
          "data": {"name": "signals"},
          "mark": {"type": "point", "filled": true, "size": 330, "stroke": "black", "strokeWidth": 1.5, "opacity": 1},
          "encoding": {
            "fill": {
              "condition": {"test": "datum.h == 0", "value": "#FF0000"},
              "value": "#2EA36E"
            },
            "shape": {
              "datum": "Signal Dates (Red lows didn't hold)",
              "scale": {"range": ["diamond"]},
              "legend": {
                "orient": "none",
                "legendX": 1485,
                "legendY": 4,
                "title": null,
                "padding": 0,
                "symbolSize": 330,
                "labelOffset": 7,
                "labelLimit": 0,
                "labelFontSize": 27,
                "labelColor": "black",
                "encode": {
                  "symbols": {
                    "update": {
                      "fill": {"value": "#2EA36E"},
                      "stroke": {"value": "black"},
                      "strokeWidth": {"value": 1.5},
                      "opacity": {"value": 1}
                    }
                  }
                }
              }
            }
          }
        }
      ]
    },
    {
      "data": {"name": "table"},
      "encoding": {
        "x": {
          "field": "c",
          "type": "nominal",
          "sort": ["c0", "c1", "c2", "c3", "c4", "c5"],
          "scale": {"type": "band", "domain": ["c0", "c1", "c2", "c3", "c4", "c5"], "range": [19, 928], "paddingInner": 0, "paddingOuter": 0},
          "axis": {
            "orient": "top",
            "labels": false,
            "ticks": false,
            "domain": false,
            "grid": false,
            "title": "@ryandetrick",
            "titleX": 1187,
            "titleY": 730,
            "titleAngle": 0,
            "titleAlign": "left",
            "titleBaseline": "middle",
            "titleFontSize": 22,
            "titleFontWeight": "normal",
            "titleColor": "black"
          }
        },
        "y": {
          "field": "r",
          "type": "nominal",
          "sort": ["hdr", "Average", "Median", "Higher", "Count", "% Positive"],
          "scale": {"type": "band", "domain": ["hdr", "Average", "Median", "Higher", "Count", "% Positive"], "range": [38, 200], "paddingInner": 0, "paddingOuter": 0},
          "axis": {
            "orient": "right",
            "labels": false,
            "ticks": false,
            "domain": false,
            "grid": false,
            "title": "C\u2002\u2009\u2009A\u2002\u2009\u2009R\u2002\u2009\u2009S\u2002\u2009\u2009O\u2002\u2009\u2009N",
            "titleX": -146,
            "titleY": 714,
            "titleAngle": 0,
            "titleAlign": "left",
            "titleBaseline": "middle",
            "titleFontSize": 21,
            "titleFontWeight": "bold",
            "titleColor": "#1D2B3C"
          }
        }
      },
      "layer": [
        {
          "mark": {"type": "rect", "stroke": "#404040", "strokeWidth": 1.5},
          "encoding": {
            "fill": {
              "condition": {"test": "datum.r == 'hdr' || datum.r == 'Median' || datum.r == 'Count'", "value": "#0AA8FF"},
              "value": "white"
            }
          }
        },
        {
          "mark": {"type": "text", "align": "center", "baseline": "middle", "fontSize": 19, "color": "black"},
          "encoding": {
            "text": {"field": "t"}
          }
        }
      ]
    }
  ],
  "resolve": {"scale": {"x": "independent", "y": "independent"}},
  "config": {
    "font": "Liberation Sans",
    "view": {"stroke": null},
    "axis": {"labelFont": "Liberation Sans", "titleFont": "Liberation Sans"},
    "legend": {"labelFont": "Liberation Sans"}
  }
}
